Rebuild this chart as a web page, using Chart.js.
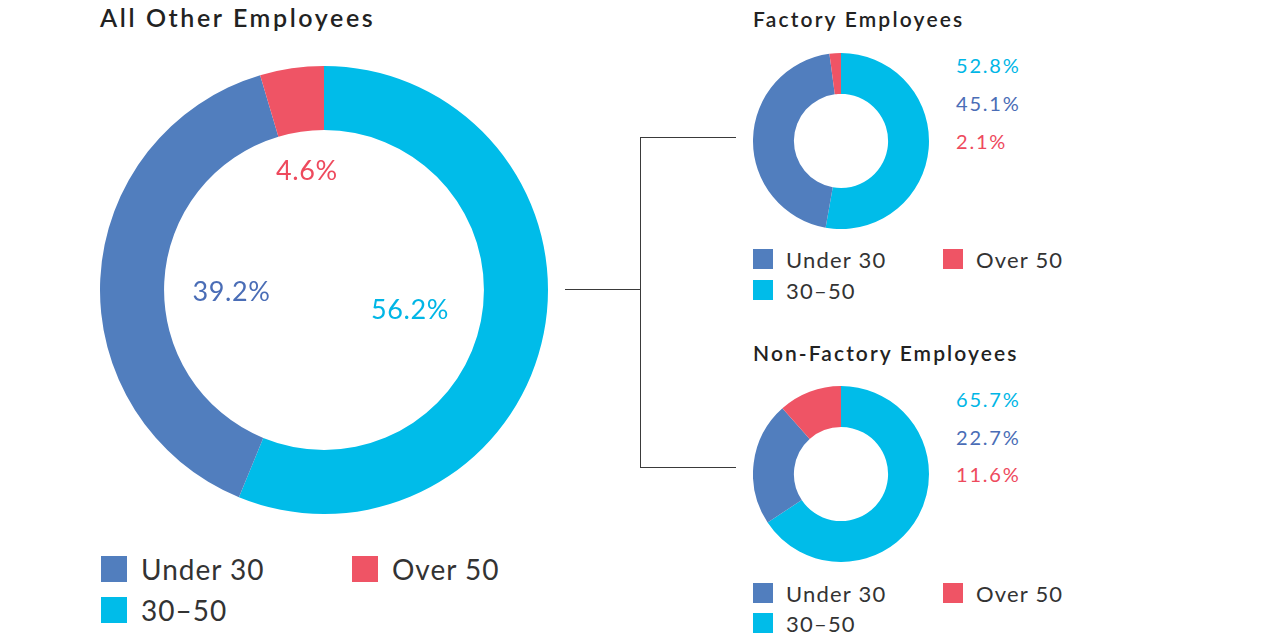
<!DOCTYPE html>
<html>
<head>
<meta charset="utf-8">
<script src="https://cdn.jsdelivr.net/npm/chart.js@4.4.1/dist/chart.umd.min.js"></script>
<style>
  html, body { margin: 0; padding: 0; background: #fff; }
  body { width: 1280px; height: 640px; position: relative; overflow: hidden; font-family: Lato, "Noto Sans", sans-serif; }
  .abs { position: absolute; }
  .title { color: #222; font-weight: 600; white-space: nowrap; line-height: 1; }
  .pct { font-size: 20px; letter-spacing: 1.8px; line-height: 1; white-space: nowrap; transform: translateY(-50%); }
  .leg { display: flex; align-items: center; color: #333; white-space: nowrap; }
  .leg span.sw { display: inline-block; }
  .line { background: #3a3a3a; }
</style>
</head>
<body>
<div class="abs title" id="t0" style="left:100px; top:5px; font-size:25px; letter-spacing:2.6px;"></div>
<div class="abs title" id="t1" style="left:753px; top:8px; font-size:21px; letter-spacing:2.2px;"></div>
<div class="abs title" id="t2" style="left:753px; top:342px; font-size:21px; letter-spacing:2.1px;"></div>

<div class="abs" style="left:100px; top:66px; width:448px; height:448px;"><canvas id="c0" width="448" height="448"></canvas></div>
<div class="abs" style="left:753px; top:53px; width:176px; height:176px;"><canvas id="c1" width="176" height="176"></canvas></div>
<div class="abs" style="left:753px; top:386px; width:176px; height:176px;"><canvas id="c2" width="176" height="176"></canvas></div>

<div class="abs line" style="left:565px; top:289px; width:76px; height:1px;"></div>
<div class="abs line" style="left:640px; top:137px; width:1px; height:331px;"></div>
<div class="abs line" style="left:640px; top:137px; width:96px; height:1px;"></div>
<div class="abs line" style="left:640px; top:467px; width:96px; height:1px;"></div>

<div id="extra"></div>

<script>
// ---- data ----
const categories = ['30–50', 'Under 30', 'Over 50'];
const allOtherValues = [56.2, 39.2, 4.6];
const factoryValues = [52.8, 45.1, 2.1];
const nonFactoryValues = [65.7, 22.7, 11.6];
const chartTitles = ['All Other Employees', 'Factory Employees', 'Non-Factory Employees'];
const legendOrder = [1, 2, 0];

// ---- styles ----
const sliceColors = ['#00BCE9', '#517EBE', '#EF5465'];
const textColors = ['#00B6E6', '#4A6DB6', '#EE4A5D'];

document.getElementById('t0').textContent = chartTitles[0];
document.getElementById('t1').textContent = chartTitles[1];
document.getElementById('t2').textContent = chartTitles[2];

const fmt = v => v.toFixed(1) + '%';

const insideLabels = {
  id: 'insideLabels',
  afterDatasetsDraw(chart, args, opts) {
    if (!opts.radii) return;
    const ctx = chart.ctx;
    const meta = chart.getDatasetMeta(0);
    const ds = chart.data.datasets[0];
    ctx.save();
    ctx.font = opts.font;
    if ('letterSpacing' in ctx) ctx.letterSpacing = opts.spacing || '0px';
    ctx.textAlign = 'center';
    ctx.textBaseline = 'middle';
    meta.data.forEach((arc, i) => {
      const p = arc.getProps(['x', 'y', 'startAngle', 'endAngle'], true);
      const mid = (p.startAngle + p.endAngle) / 2 + (opts.angleShift[i] * Math.PI / 180);
      const r = opts.radii[i];
      ctx.fillStyle = textColors[i];
      ctx.fillText(fmt(ds.data[i]), p.x + Math.cos(mid) * r, p.y + Math.sin(mid) * r);
    });
    ctx.restore();
  }
};

function makeDonut(id, values, cutout, labelOpts) {
  return new Chart(document.getElementById(id), {
    type: 'doughnut',
    data: {
      labels: categories,
      datasets: [{ data: values, backgroundColor: sliceColors, borderWidth: 0, hoverOffset: 0 }]
    },
    options: {
      responsive: false,
      animation: false,
      cutout: cutout,
      layout: { padding: 0 },
      plugins: {
        legend: { display: false },
        tooltip: { enabled: false },
        insideLabels: labelOpts || {}
      }
    },
    plugins: [insideLabels]
  });
}

makeDonut('c0', allOtherValues, '71.4%', {
  radii: [88.5, 92.5, 119.5],
  angleShift: [2.3, -4.1, 0],
  font: '27px Lato, "Noto Sans", sans-serif',
  spacing: '0.6px'
});
makeDonut('c1', factoryValues, '53.5%');
makeDonut('c2', nonFactoryValues, '53.5%');

// right-side percentage lists and legends
const extra = document.getElementById('extra');
function addPctList(values, left, ys) {
  values.forEach((v, i) => {
    const d = document.createElement('div');
    d.className = 'abs pct';
    d.style.left = left + 'px';
    d.style.top = ys[i] + 'px';
    d.style.color = textColors[i];
    d.textContent = fmt(v);
    extra.appendChild(d);
  });
}
addPctList(factoryValues, 956, [65, 103, 141]);
addPctList(nonFactoryValues, 956, [399, 437, 474]);

function addLegend(positions, sw, fontSize, gap, spacing) {
  legendOrder.forEach((idx, k) => {
    const pos = positions[k];
    const d = document.createElement('div');
    d.className = 'abs leg';
    d.style.left = pos[0] + 'px';
    d.style.top = pos[1] + 'px';
    d.style.height = sw + 'px';
    d.style.fontSize = fontSize + 'px';
    d.style.letterSpacing = spacing + 'px';
    const s = document.createElement('span');
    s.className = 'sw';
    s.style.width = sw + 'px';
    s.style.height = sw + 'px';
    s.style.background = sliceColors[idx];
    s.style.marginRight = gap + 'px';
    const t = document.createElement('span');
    t.textContent = categories[idx];
    d.appendChild(s); d.appendChild(t);
    extra.appendChild(d);
  });
}
addLegend([[101, 556], [352, 556], [101, 597]], 26, 28, 14, 1);
addLegend([[753, 249], [943, 249], [753, 280]], 20, 22, 13, 1.2);
addLegend([[753, 583], [943, 583], [753, 613]], 20, 22, 13, 1.2);
</script>
</body>
</html>
